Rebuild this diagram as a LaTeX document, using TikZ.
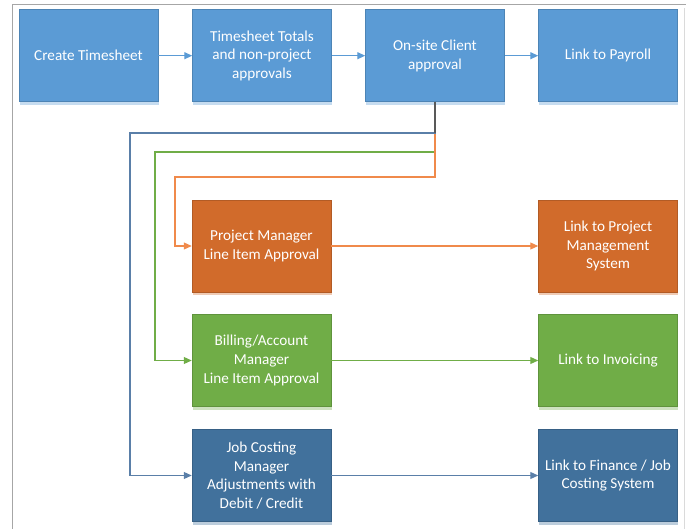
\documentclass[tikz,border=0pt]{standalone}
\usepackage{fontspec}
\setmainfont{Carlito}
\usetikzlibrary{arrows.meta,shadows}
\definecolor{lbfill}{HTML}{5B9BD5}
\definecolor{orfill}{HTML}{D16B2B}
\definecolor{grfill}{HTML}{70AD47}
\definecolor{dbfill}{HTML}{41719C}
\definecolor{orline}{HTML}{F08A4B}
\definecolor{dbline}{HTML}{5A7FA8}
\definecolor{frameA}{HTML}{A6A6A6}
\definecolor{frameB}{HTML}{DADADA}
\tikzset{
  box/.style={rectangle, minimum width=139pt, minimum height=92pt, inner sep=0pt,
    text=white, align=center, font=\fontsize{15.2}{18.6}\selectfont,
    fill=#1fill, draw=#1fill!85!black, line width=0.5pt,
    general shadow={fill=#1fill!35!white, shadow yshift=-3.5pt, shadow xshift=0.5pt}},
  conn/.style={line width=1.2pt, draw=#1, -{Triangle[length=8pt,width=7pt]}},
}
\begin{document}
\begin{tikzpicture}[x=1pt,y=1pt]
\useasboundingbox (0,0) rectangle (686,-529);
% frame
\draw[frameB, line width=1pt] (684.5,-8) -- (684.5,-529);
\draw[frameA, line width=1.6pt] (12.5,-529) -- (12.5,-4.5) -- (686,-4.5);
% boxes
\node[box=lb] (b1) at (88.5,-55.7) {Create Timesheet};
\node[box=lb] (b2) at (262,-55.7) {Timesheet Totals\\and non-project\\approvals};
\node[box=lb] (b3) at (435,-55.7) {On-site Client\\approval};
\node[box=lb] (b4) at (608,-55.7) {Link to Payroll};
\node[box=or] (pm) at (261.5,-246) {Project Manager\\Line Item Approval};
\node[box=or] (lpm) at (608,-246) {Link to Project\\Management\\System};
\node[box=gr] (ba) at (261.5,-360.5) {Billing/Account\\Manager\\Line Item Approval};
\node[box=gr] (inv) at (608,-360.5) {Link to Invoicing};
\node[box=db] (jc) at (261.5,-475.5) {Job Costing\\Manager\\Adjustments with\\Debit / Credit};
\node[box=db] (fin) at (608,-475.5) {Link to Finance / Job\\Costing System};
% bends
\coordinate (gb) at (155,-152);
\coordinate (ob) at (175,-177);
\coordinate (bb) at (130,-133);
% top row
\draw[conn=lbfill] (b1) -- (b2);
\draw[conn=lbfill] (b2) -- (b3);
\draw[conn=lbfill] (b3) -- (b4);
% branches
\draw[conn=grfill] (b3.south) |- (gb) |- (ba.west);
\draw[conn=orline] (b3.south) |- (ob) |- (pm.west);
\draw[conn=dbline] (b3.south) |- (bb) |- (jc.west);
\draw[line width=1.2pt, draw=black!65] (b3.south) -- ++(0,-31);
% right links
\draw[conn=orline] (pm) -- (lpm);
\draw[conn=grfill] (ba) -- (inv);
\draw[conn=dbline] (jc) -- (fin);
\end{tikzpicture}
\end{document}
